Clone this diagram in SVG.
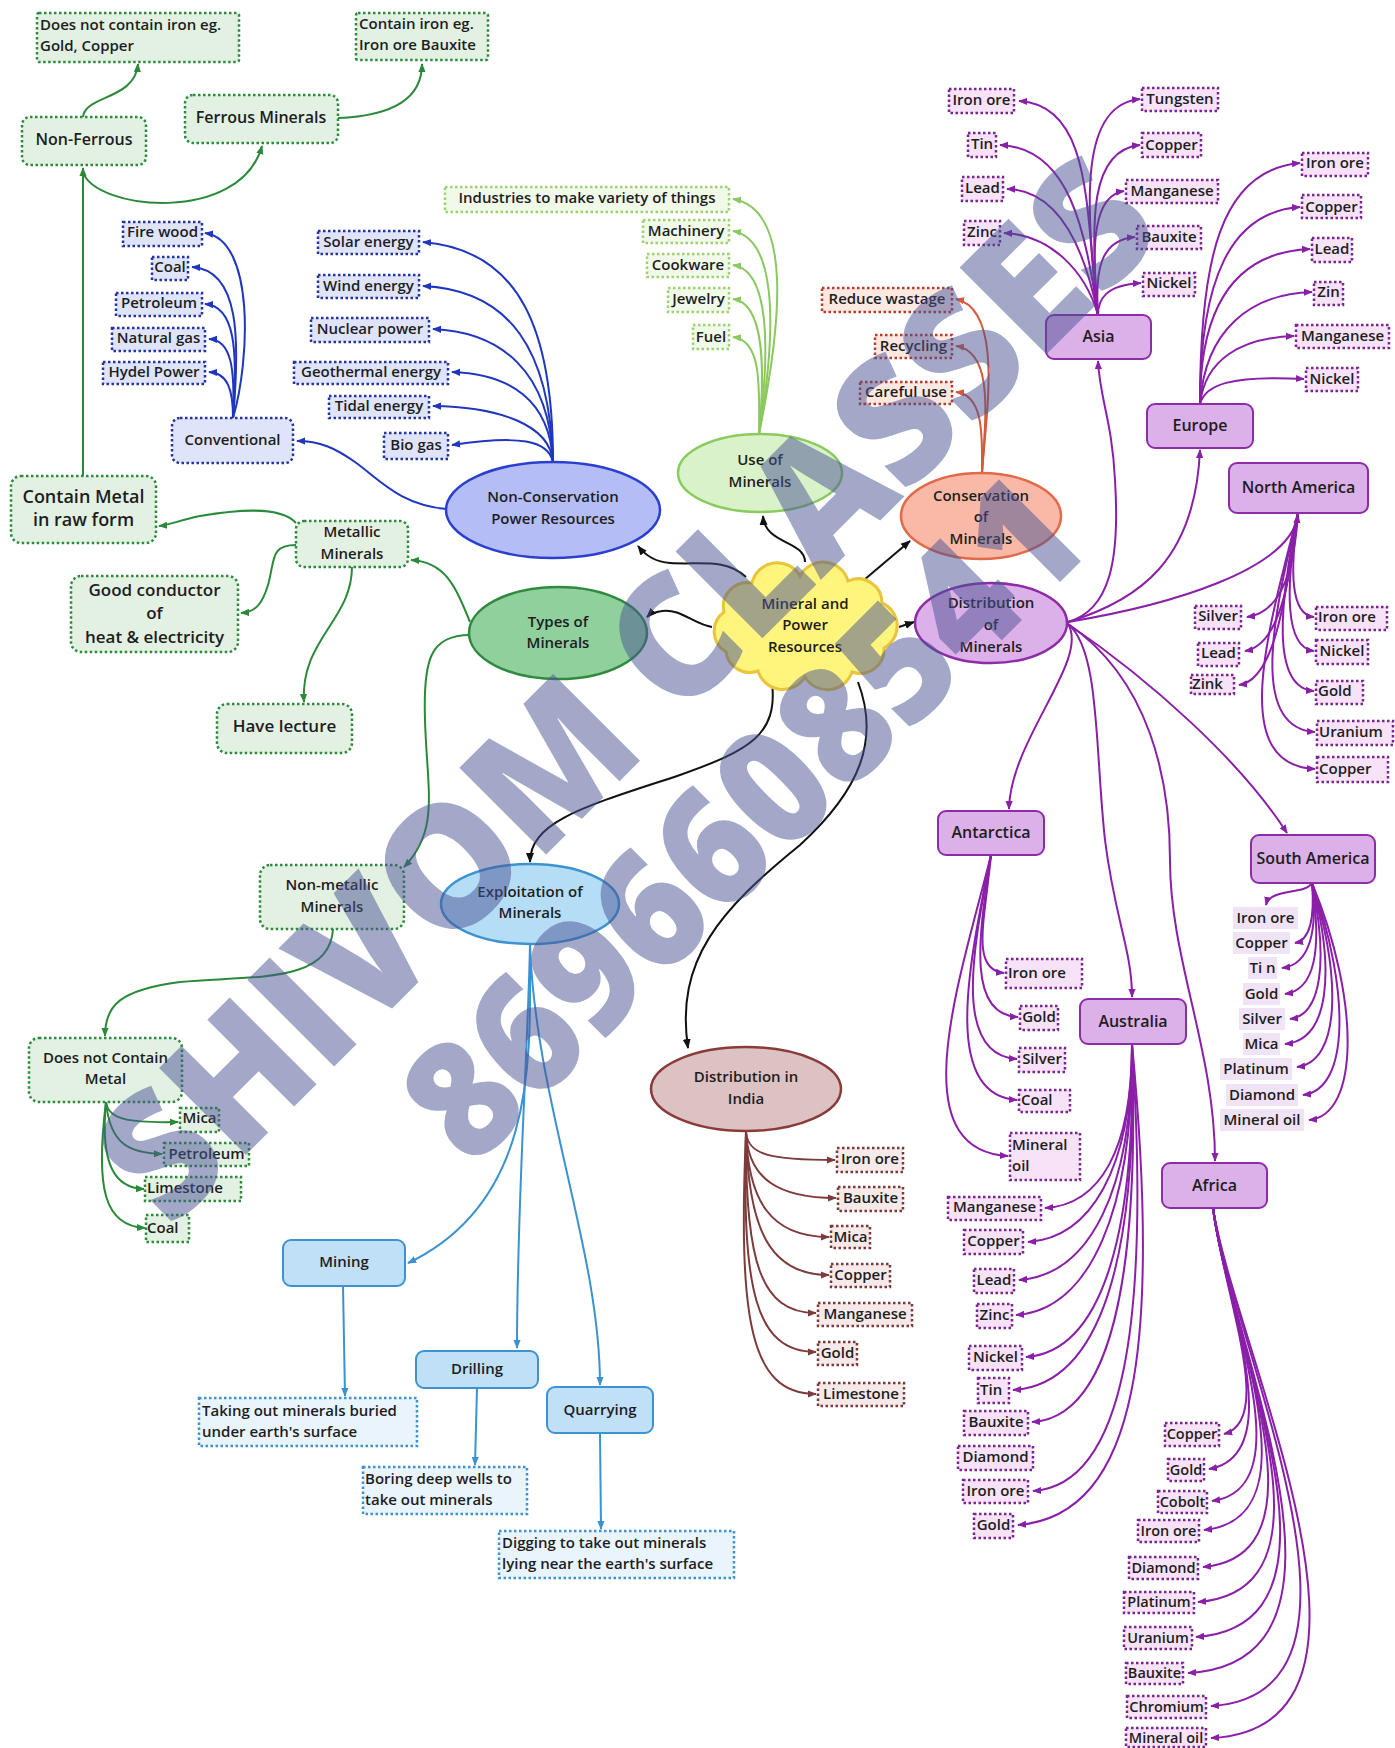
<svg xmlns="http://www.w3.org/2000/svg" width="1395" height="1748" viewBox="0 0 1395 1748">
<style>
.t{font-family:"Open Sans","Liberation Sans",Arial,sans-serif;font-weight:600;font-size:15px;fill:#1d1d1d;text-anchor:middle}
.s{text-anchor:start}
.f16{font-size:16px}.f17{font-size:17px}.f18{font-size:18px}.f14{font-size:14.5px}
.gb{fill:#e3f1e3;stroke:#2e8b3e;stroke-width:2.5;stroke-dasharray:2.5 2.5}
.bb{fill:#dfe4fa;stroke:#2435a0;stroke-width:2.5;stroke-dasharray:2.5 2.5}
.lg{fill:#f1f9e8;stroke:#9dd173;stroke-width:2.5;stroke-dasharray:2.5 2.5}
.rb{fill:#fde8e2;stroke:#b83c2c;stroke-width:2.5;stroke-dasharray:2.5 2.5}
.pb{fill:#f7e2f7;stroke:#7a2590;stroke-width:2.5;stroke-dasharray:2.5 2.5}
.mb{fill:#f6e9e9;stroke:#7a3a3a;stroke-width:2.5;stroke-dasharray:2.5 2.5}
.xb{fill:#eaf4fc;stroke:#3d93d0;stroke-width:2.5;stroke-dasharray:2.5 2.5}
.cont{fill:#dcb0e8;stroke:#8e2ca8;stroke-width:2}
.ex{fill:#c0e0f8;stroke:#3d93d0;stroke-width:2}
.sa{fill:#f1e3f6}
.cg{fill:none;stroke:#2a8a3a;stroke-width:2;marker-end:url(#aG)}
.cb{fill:none;stroke:#1f36c0;stroke-width:2;marker-end:url(#aB)}
.cl{fill:none;stroke:#8bc860;stroke-width:2;marker-end:url(#aL)}
.cr{fill:none;stroke:#d5593c;stroke-width:2;marker-end:url(#aR)}
.cp{fill:none;stroke:#8a1fa8;stroke-width:2;marker-end:url(#aP)}
.ck{fill:none;stroke:#111;stroke-width:2;marker-end:url(#aK)}
.cx{fill:none;stroke:#3b92d0;stroke-width:2;marker-end:url(#aX)}
.cm{fill:none;stroke:#7d3b3b;stroke-width:2;marker-end:url(#aM)}
.wm{font-family:"Open Sans","Liberation Sans",Arial,sans-serif;font-weight:800;fill:#4a5494;opacity:0.5;text-anchor:middle}
</style>
<defs>
<marker id="aG" viewBox="0 0 10 10" refX="9" refY="5" markerWidth="9" markerHeight="9" markerUnits="userSpaceOnUse" orient="auto"><path d="M0,1 L10,5 L0,9 z" fill="#2a8a3a"/></marker>
<marker id="aB" viewBox="0 0 10 10" refX="9" refY="5" markerWidth="9" markerHeight="9" markerUnits="userSpaceOnUse" orient="auto"><path d="M0,1 L10,5 L0,9 z" fill="#1f36c0"/></marker>
<marker id="aL" viewBox="0 0 10 10" refX="9" refY="5" markerWidth="9" markerHeight="9" markerUnits="userSpaceOnUse" orient="auto"><path d="M0,1 L10,5 L0,9 z" fill="#8bc860"/></marker>
<marker id="aR" viewBox="0 0 10 10" refX="9" refY="5" markerWidth="9" markerHeight="9" markerUnits="userSpaceOnUse" orient="auto"><path d="M0,1 L10,5 L0,9 z" fill="#d5593c"/></marker>
<marker id="aP" viewBox="0 0 10 10" refX="9" refY="5" markerWidth="9" markerHeight="9" markerUnits="userSpaceOnUse" orient="auto"><path d="M0,1 L10,5 L0,9 z" fill="#8a1fa8"/></marker>
<marker id="aK" viewBox="0 0 10 10" refX="9" refY="5" markerWidth="10" markerHeight="10" markerUnits="userSpaceOnUse" orient="auto"><path d="M0,1 L10,5 L0,9 z" fill="#111"/></marker>
<marker id="aX" viewBox="0 0 10 10" refX="9" refY="5" markerWidth="9" markerHeight="9" markerUnits="userSpaceOnUse" orient="auto"><path d="M0,1 L10,5 L0,9 z" fill="#3b92d0"/></marker>
<marker id="aM" viewBox="0 0 10 10" refX="9" refY="5" markerWidth="9" markerHeight="9" markerUnits="userSpaceOnUse" orient="auto"><path d="M0,1 L10,5 L0,9 z" fill="#7d3b3b"/></marker>
</defs>
<rect width="1395" height="1748" fill="#fff"/>

<g id="connectors">
<path class="cg" d="M83,117 C85,95 135,100 138,64"/>
<path class="cg" d="M338,118 C390,116 422,100 422,64"/>
<path class="cg" d="M83,476 L83,168"/>
<path class="cg" d="M83,172 C95,210 240,225 262,146"/>
<path class="cb" d="M233,418 C250,360 255,240 205,233"/>
<path class="cb" d="M233,418 C240,340 240,270 192,267"/>
<path class="cb" d="M233,418 C238,350 235,306 205,304"/>
<path class="cb" d="M233,418 C235,370 232,340 209,339"/>
<path class="cb" d="M233,418 C233,390 228,373 209,372"/>
<path class="cb" d="M447,509 C400,505 380,480 355,462 C335,448 320,441 297,441"/>
<path class="cb" d="M553,462 C553,330 520,250 423,242"/>
<path class="cb" d="M553,462 C550,350 510,290 423,286"/>
<path class="cb" d="M553,462 C550,370 500,332 433,329"/>
<path class="cb" d="M553,462 C550,400 510,374 452,372"/>
<path class="cb" d="M553,462 C550,425 500,407 433,406"/>
<path class="cb" d="M553,462 C548,440 520,435 452,445"/>
<path class="cl" d="M759,434 C780,330 795,210 733,199"/>
<path class="cl" d="M759,434 C775,340 780,240 733,231"/>
<path class="cl" d="M759,434 C770,350 770,270 733,265"/>
<path class="cl" d="M759,434 C765,370 765,303 733,299"/>
<path class="cl" d="M759,434 C760,380 760,340 733,337"/>
<path class="cr" d="M982,474 C985,420 1005,310 956,299"/>
<path class="cr" d="M982,474 C985,420 995,352 956,346"/>
<path class="cr" d="M982,474 C982,440 985,395 956,392"/>
<path class="ck" d="M746,577 C725,558 700,565 670,563 C655,562 645,555 638,546"/>
<path class="ck" d="M805,562 C805,540 765,545 763,516"/>
<path class="ck" d="M712,627 C695,625 680,608 662,611 C655,612 650,614 647,617"/>
<path class="ck" d="M864,580 L910,541"/>
<path class="ck" d="M899,627 L914,622"/>
<path class="ck" d="M772,682 C778,735 750,750 680,775 C590,805 530,820 530,862"/>
<path class="ck" d="M858,682 C880,740 860,790 800,845 C720,910 675,960 688,1048"/>
<path class="cg" d="M470,622 C455,585 445,562 411,560"/>
<path class="cg" d="M470,635 C430,635 423,660 425,720 C427,790 440,830 404,867"/>
<path class="cg" d="M296,523 C280,505 235,510 200,516 C180,520 170,525 159,526"/>
<path class="cg" d="M296,545 C270,545 275,560 268,585 C262,605 255,612 241,613"/>
<path class="cg" d="M352,567 C352,620 300,640 304,702"/>
<path class="cg" d="M333,929 C330,985 250,975 180,982 C120,990 105,1005 105,1036"/>
<path class="cg" d="M106,1102 C108,1120 130,1123 178,1122"/>
<path class="cg" d="M106,1102 C110,1145 130,1153 162,1154"/>
<path class="cg" d="M106,1102 C100,1165 115,1188 144,1189"/>
<path class="cg" d="M106,1102 C95,1190 105,1226 145,1228"/>
<path class="cx" d="M530,944 C530,1050 540,1200 408,1263"/>
<path class="cx" d="M530,944 C528,1050 517,1200 517,1348"/>
<path class="cx" d="M530,944 C535,1100 600,1250 600,1385"/>
<path class="cx" d="M343,1286 L345,1396"/>
<path class="cx" d="M477,1388 L475,1465"/>
<path class="cx" d="M600,1433 L601,1529"/>
<path class="cm" d="M746,1132 C748,1155 770,1160 835,1160"/>
<path class="cm" d="M746,1132 C748,1180 780,1198 836,1198"/>
<path class="cm" d="M746,1132 C748,1200 770,1237 829,1237"/>
<path class="cm" d="M746,1132 C748,1230 770,1275 829,1275"/>
<path class="cm" d="M746,1132 C745,1260 760,1313 816,1313"/>
<path class="cm" d="M746,1132 C742,1290 755,1352 816,1352"/>
<path class="cm" d="M746,1132 C738,1320 750,1394 816,1394"/>
<path class="cp" d="M1068,622 C1110,610 1120,560 1115,480 C1112,420 1100,400 1098,361"/>
<path class="cp" d="M1068,622 C1140,600 1195,560 1200,450"/>
<path class="cp" d="M1068,622 C1170,605 1290,570 1298,515"/>
<path class="cp" d="M1068,624 C1090,660 1010,740 1009,809"/>
<path class="cp" d="M1068,624 C1100,650 1095,750 1105,840 C1115,920 1132,950 1132,997"/>
<path class="cp" d="M1068,624 C1150,680 1170,780 1170,860 C1170,960 1215,1050 1215,1161"/>
<path class="cp" d="M1068,624 C1150,680 1240,760 1287,833"/>
<path class="cp" d="M1098,315 C1085,220 1095,105 1019,101"/>
<path class="cp" d="M1098,315 C1085,230 1070,148 1000,145"/>
<path class="cp" d="M1098,315 C1085,250 1060,190 1007,189"/>
<path class="cp" d="M1098,315 C1085,270 1050,235 1004,233"/>
<path class="cp" d="M1098,315 C1085,200 1080,105 1140,99"/>
<path class="cp" d="M1098,315 C1090,220 1090,150 1140,145"/>
<path class="cp" d="M1098,315 C1090,240 1095,195 1124,191"/>
<path class="cp" d="M1098,315 C1095,270 1100,240 1135,237"/>
<path class="cp" d="M1098,315 C1098,300 1105,285 1141,283"/>
<path class="cp" d="M1200,404 C1200,260 1220,170 1300,163"/>
<path class="cp" d="M1200,404 C1200,280 1230,212 1300,207"/>
<path class="cp" d="M1200,404 C1200,300 1240,252 1310,249"/>
<path class="cp" d="M1200,404 C1205,330 1250,294 1312,292"/>
<path class="cp" d="M1200,404 C1205,360 1240,338 1294,336"/>
<path class="cp" d="M1200,404 C1205,385 1230,375 1304,379"/>
<path class="cp" d="M1298,513 C1295,560 1285,612 1247,617"/>
<path class="cp" d="M1298,513 C1290,580 1280,645 1245,651"/>
<path class="cp" d="M1298,513 C1285,600 1275,680 1239,685"/>
<path class="cp" d="M1298,513 C1290,570 1290,615 1314,617"/>
<path class="cp" d="M1298,513 C1285,590 1285,648 1314,651"/>
<path class="cp" d="M1298,513 C1280,600 1270,688 1314,691"/>
<path class="cp" d="M1298,513 C1272,620 1250,728 1315,732"/>
<path class="cp" d="M1298,513 C1265,640 1230,765 1315,769"/>
<path class="cp" d="M1312,883 C1305,895 1270,888 1266,905"/>
<path class="cp" d="M1312,883 C1315,920 1310,940 1295,943"/>
<path class="cp" d="M1312,883 C1318,930 1310,965 1282,968"/>
<path class="cp" d="M1312,883 C1322,950 1315,990 1285,994"/>
<path class="cp" d="M1312,883 C1328,960 1322,1015 1290,1019"/>
<path class="cp" d="M1312,883 C1335,970 1330,1040 1285,1044"/>
<path class="cp" d="M1312,883 C1342,980 1340,1062 1297,1067"/>
<path class="cp" d="M1312,883 C1350,990 1350,1090 1303,1095"/>
<path class="cp" d="M1312,883 C1360,1000 1360,1115 1309,1120"/>
<path class="cp" d="M991,855 C985,920 970,970 1004,973"/>
<path class="cp" d="M991,855 C980,930 965,1015 1018,1017"/>
<path class="cp" d="M991,855 C975,940 950,1055 1017,1059"/>
<path class="cp" d="M991,855 C970,960 940,1095 1017,1100"/>
<path class="cp" d="M991,855 C960,980 900,1150 1008,1156"/>
<path class="cp" d="M1132,1044 C1132,1150 1100,1205 1045,1208"/>
<path class="cp" d="M1132,1044 C1132,1170 1090,1238 1028,1242"/>
<path class="cp" d="M1132,1044 C1133,1190 1090,1275 1019,1280"/>
<path class="cp" d="M1132,1044 C1134,1210 1090,1310 1016,1315"/>
<path class="cp" d="M1132,1044 C1136,1240 1100,1352 1026,1357"/>
<path class="cp" d="M1132,1044 C1138,1260 1100,1385 1013,1390"/>
<path class="cp" d="M1132,1044 C1140,1280 1110,1418 1032,1422"/>
<path class="cp" d="M1132,1044 C1150,1320 1125,1485 1033,1491"/>
<path class="cp" d="M1132,1044 C1160,1340 1140,1515 1018,1525"/>
<path class="cp" d="M1213,1208 C1225,1300 1275,1420 1224,1434"/>
<path class="cp" d="M1213,1208 C1225,1300 1290,1455 1209,1469"/>
<path class="cp" d="M1213,1208 C1225,1310 1305,1488 1212,1501"/>
<path class="cp" d="M1213,1208 C1228,1320 1320,1518 1204,1530"/>
<path class="cp" d="M1213,1208 C1228,1330 1335,1555 1203,1567"/>
<path class="cp" d="M1213,1208 C1230,1340 1350,1590 1198,1602"/>
<path class="cp" d="M1213,1208 C1230,1345 1365,1625 1196,1637"/>
<path class="cp" d="M1213,1208 C1232,1350 1380,1662 1188,1673"/>
<path class="cp" d="M1213,1208 C1234,1350 1400,1695 1211,1706"/>
<path class="cp" d="M1213,1208 C1235,1350 1420,1728 1211,1738"/>
</g>

<g id="n-noniron"><rect class="gb" x="37" y="13" width="202" height="49" rx="2"/><text class="t s" x="40" y="30">Does not contain iron eg.</text><text class="t s" x="40" y="51">Gold, Copper</text></g>
<g id="n-iron"><rect class="gb" x="356" y="13" width="132" height="47" rx="2"/><text class="t s" x="359" y="29">Contain iron eg.</text><text class="t s" x="359" y="50">Iron ore Bauxite</text></g>
<g id="n-ferrous"><rect class="gb" x="185" y="95" width="153" height="48" rx="8"/><text class="t f16" x="261" y="123">Ferrous Minerals</text></g>
<g id="n-nonferrous"><rect class="gb" x="22" y="117" width="124" height="48" rx="8"/><text class="t f16" x="84" y="145">Non-Ferrous</text></g>

<g id="n-firewood"><rect class="bb" x="123" y="222" width="79" height="24"/><text class="t" x="162.5" y="237">Fire wood</text></g>
<g id="n-coal1"><rect class="bb" x="152" y="257" width="36" height="23"/><text class="t" x="170" y="272">Coal</text></g>
<g id="n-petro1"><rect class="bb" x="116" y="293" width="86" height="23"/><text class="t" x="159" y="308">Petroleum</text></g>
<g id="n-natgas"><rect class="bb" x="112" y="328" width="93" height="23"/><text class="t" x="158.5" y="343">Natural gas</text></g>
<g id="n-hydel"><rect class="bb" x="103" y="362" width="102" height="22"/><text class="t" x="154" y="377">Hydel Power</text></g>
<g id="n-conventional"><rect class="bb" x="172" y="418" width="121" height="45" rx="8"/><text class="t" x="232.5" y="445">Conventional</text></g>

<g id="n-solar"><rect class="bb" x="318" y="231" width="101" height="23"/><text class="t" x="368.5" y="247">Solar energy</text></g>
<g id="n-wind"><rect class="bb" x="318" y="275" width="101" height="23"/><text class="t" x="368.5" y="291">Wind energy</text></g>
<g id="n-nuclear"><rect class="bb" x="311" y="318" width="118" height="24"/><text class="t" x="370" y="334">Nuclear power</text></g>
<g id="n-geo"><rect class="bb" x="294" y="362" width="154" height="22"/><text class="t" x="371" y="377">Geothermal energy</text></g>
<g id="n-tidal"><rect class="bb" x="329" y="396" width="100" height="22"/><text class="t" x="379" y="411">Tidal energy</text></g>
<g id="n-biogas"><rect class="bb" x="384" y="433" width="64" height="26"/><text class="t" x="416" y="450">Bio gas</text></g>

<g id="n-noncons"><ellipse cx="553" cy="510" rx="107" ry="48" fill="#b4bdf6" stroke="#2a3fd0" stroke-width="2.5"/><text class="t" x="553" y="502">Non-Conservation</text><text class="t" x="553" y="524">Power Resources</text></g>
<g id="n-use"><ellipse cx="760" cy="473" rx="82" ry="39" fill="#daf2ca" stroke="#8acb5e" stroke-width="2.5"/><text class="t" x="760" y="465">Use of</text><text class="t" x="760" y="487">Minerals</text></g>
<g id="n-types"><ellipse cx="558" cy="633" rx="89" ry="46" fill="#90d09c" stroke="#2e8b3e" stroke-width="2.5"/><text class="t" x="558" y="627">Types of</text><text class="t" x="558" y="648">Minerals</text></g>
<g id="n-conservation"><ellipse cx="981" cy="516" rx="80" ry="43" fill="#f9b9a6" stroke="#e06a4a" stroke-width="2.5"/><text class="t" x="981" y="501">Conservation</text><text class="t" x="981" y="522">of</text><text class="t" x="981" y="544">Minerals</text></g>
<g id="n-distribution"><ellipse cx="991" cy="623" rx="76" ry="40" fill="#dcb0e8" stroke="#8e2ca8" stroke-width="2.5"/><text class="t" x="991" y="608">Distribution</text><text class="t" x="991" y="630">of</text><text class="t" x="991" y="652">Minerals</text></g>
<g id="n-exploit"><ellipse cx="530" cy="904" rx="89" ry="40" fill="#b6ddf6" stroke="#3d93d0" stroke-width="2.5"/><text class="t" x="530" y="897">Exploitation of</text><text class="t" x="530" y="918">Minerals</text></g>
<g id="n-india"><ellipse cx="746" cy="1089" rx="95" ry="42" fill="#dcc2c2" stroke="#8b3a3a" stroke-width="2.5"/><text class="t" x="746" y="1082">Distribution in</text><text class="t" x="746" y="1104">India</text></g>
<g id="n-center"><path d="M724,612 A24,24 0 0 1 752,583 A26,26 0 0 1 800,576 A26,26 0 0 1 848,581 A24,24 0 0 1 882,603 A25,25 0 0 1 884,648 A24,24 0 0 1 852,672 A26,26 0 0 1 805,677 A26,26 0 0 1 758,671 A24,24 0 0 1 726,652 A24,24 0 0 1 724,612 Z" fill="#fff47c" stroke="#e8c53a" stroke-width="3"/><text class="t" x="805" y="609">Mineral and</text><text class="t" x="805" y="630">Power</text><text class="t" x="805" y="652">Resources</text></g>

<g id="n-industries"><rect class="lg" x="445" y="187" width="284" height="25"/><text class="t" x="587" y="203">Industries to make variety of things</text></g>
<g id="n-machinery"><rect class="lg" x="643" y="220" width="86" height="23"/><text class="t" x="686" y="236">Machinery</text></g>
<g id="n-cookware"><rect class="lg" x="647" y="254" width="82" height="23"/><text class="t" x="688" y="270">Cookware</text></g>
<g id="n-jewelry"><rect class="lg" x="668" y="288" width="61" height="24"/><text class="t" x="698.5" y="304">Jewelry</text></g>
<g id="n-fuel"><rect class="lg" x="693" y="325" width="36" height="24"/><text class="t" x="711" y="342">Fuel</text></g>

<g id="n-reduce"><rect class="rb" x="822" y="288" width="130" height="24"/><text class="t" x="887" y="304">Reduce wastage</text></g>
<g id="n-recycling"><rect class="rb" x="875" y="335" width="77" height="23"/><text class="t" x="913.5" y="351">Recycling</text></g>
<g id="n-careful"><rect class="rb" x="860" y="382" width="92" height="22"/><text class="t" x="906" y="397">Careful use</text></g>

<g id="n-asia"><rect class="cont" x="1046" y="315" width="105" height="44" rx="8"/><text class="t f16" x="1098.5" y="342">Asia</text></g>
<g id="n-as1"><rect class="pb" x="949" y="89" width="65" height="24"/><text class="t" x="981.5" y="105">Iron ore</text></g>
<g id="n-as2"><rect class="pb" x="968" y="133" width="28" height="24"/><text class="t" x="982" y="149">Tin</text></g>
<g id="n-as3"><rect class="pb" x="962" y="177" width="41" height="24"/><text class="t" x="982.5" y="193">Lead</text></g>
<g id="n-as4"><rect class="pb" x="964" y="221" width="36" height="24"/><text class="t" x="982" y="237">Zinc</text></g>
<g id="n-as5"><rect class="pb" x="1142" y="88" width="76" height="23"/><text class="t" x="1180" y="104">Tungsten</text></g>
<g id="n-as6"><rect class="pb" x="1142" y="133" width="59" height="24"/><text class="t" x="1171.5" y="150">Copper</text></g>
<g id="n-as7"><rect class="pb" x="1126" y="180" width="92" height="23"/><text class="t" x="1172" y="196">Manganese</text></g>
<g id="n-as8"><rect class="pb" x="1137" y="226" width="64" height="23"/><text class="t" x="1169" y="242">Bauxite</text></g>
<g id="n-as9"><rect class="pb" x="1143" y="273" width="52" height="23"/><text class="t" x="1169" y="288">Nickel</text></g>

<g id="n-europe"><rect class="cont" x="1147" y="404" width="106" height="44" rx="8"/><text class="t f16" x="1200" y="431">Europe</text></g>
<g id="n-eu1"><rect class="pb" x="1302" y="153" width="66" height="23"/><text class="t" x="1335" y="168">Iron ore</text></g>
<g id="n-eu2"><rect class="pb" x="1302" y="195" width="59" height="23"/><text class="t" x="1331.5" y="212">Copper</text></g>
<g id="n-eu3"><rect class="pb" x="1312" y="238" width="40" height="24"/><text class="t" x="1332" y="254">Lead</text></g>
<g id="n-eu4"><rect class="pb" x="1314" y="282" width="29" height="23"/><text class="t" x="1328.5" y="297">Zin</text></g>
<g id="n-eu5"><rect class="pb" x="1296" y="325" width="93" height="23"/><text class="t" x="1342.5" y="341">Manganese</text></g>
<g id="n-eu6"><rect class="pb" x="1306" y="368" width="52" height="23"/><text class="t" x="1332" y="384">Nickel</text></g>

<g id="n-na"><rect class="cont" x="1229" y="463" width="139" height="50" rx="8"/><text class="t f16" x="1298.5" y="493">North America</text></g>
<g id="n-na1"><rect class="pb" x="1195" y="606" width="46" height="23"/><text class="t" x="1218" y="621">Silver</text></g>
<g id="n-na2"><rect class="pb" x="1198" y="643" width="41" height="23"/><text class="t" x="1218.5" y="658">Lead</text></g>
<g id="n-na3"><rect class="pb" x="1191" y="675" width="43" height="19"/><text class="t s" x="1192" y="689">Zink</text></g>
<g id="n-na4"><rect class="pb" x="1316" y="607" width="71" height="23"/><text class="t s" x="1318" y="622">Iron ore</text></g>
<g id="n-na5"><rect class="pb" x="1316" y="640" width="52" height="24"/><text class="t" x="1342" y="656">Nickel</text></g>
<g id="n-na6"><rect class="pb" x="1316" y="681" width="47" height="23"/><text class="t s" x="1318" y="696">Gold</text></g>
<g id="n-na7"><rect class="pb" x="1317" y="721" width="76" height="24"/><text class="t s" x="1319" y="737">Uranium</text></g>
<g id="n-na8"><rect class="pb" x="1317" y="757" width="71" height="25"/><text class="t s" x="1319" y="774">Copper</text></g>

<g id="n-ant"><rect class="cont" x="938" y="811" width="106" height="44" rx="8"/><text class="t f16" x="991" y="838">Antarctica</text></g>
<g id="n-an1"><rect class="pb" x="1006" y="959" width="76" height="29"/><text class="t s" x="1008" y="978">Iron ore</text></g>
<g id="n-an2"><rect class="pb" x="1020" y="1006" width="38" height="24"/><text class="t" x="1039" y="1022">Gold</text></g>
<g id="n-an3"><rect class="pb" x="1019" y="1048" width="46" height="24"/><text class="t" x="1042" y="1064">Silver</text></g>
<g id="n-an4"><rect class="pb" x="1019" y="1090" width="51" height="22"/><text class="t s" x="1021" y="1105">Coal</text></g>
<g id="n-an5"><rect class="pb" x="1010" y="1133" width="70" height="47"/><text class="t s" x="1012" y="1150">Mineral</text><text class="t s" x="1012" y="1171">oil</text></g>

<g id="n-aus"><rect class="cont" x="1080" y="999" width="106" height="45" rx="8"/><text class="t f16" x="1133" y="1027">Australia</text></g>
<g id="n-au1"><rect class="pb" x="948" y="1197" width="93" height="23"/><text class="t" x="994.5" y="1212">Manganese</text></g>
<g id="n-au2"><rect class="pb" x="964" y="1230" width="59" height="24"/><text class="t" x="993.5" y="1246">Copper</text></g>
<g id="n-au3"><rect class="pb" x="974" y="1269" width="40" height="24"/><text class="t" x="994" y="1285">Lead</text></g>
<g id="n-au4"><rect class="pb" x="977" y="1304" width="35" height="24"/><text class="t" x="994.5" y="1320">Zinc</text></g>
<g id="n-au5"><rect class="pb" x="969" y="1346" width="53" height="24"/><text class="t" x="995.5" y="1362">Nickel</text></g>
<g id="n-au6"><rect class="pb" x="978" y="1378" width="31" height="25"/><text class="t s" x="980" y="1395">Tin</text></g>
<g id="n-au7"><rect class="pb" x="964" y="1411" width="64" height="24"/><text class="t" x="996" y="1427">Bauxite</text></g>
<g id="n-au8"><rect class="pb" x="958" y="1446" width="75" height="24"/><text class="t" x="995.5" y="1462">Diamond</text></g>
<g id="n-au9"><rect class="pb" x="963" y="1480" width="65" height="23"/><text class="t" x="995.5" y="1496">Iron ore</text></g>
<g id="n-au10"><rect class="pb" x="974" y="1514" width="39" height="24"/><text class="t" x="993.5" y="1530">Gold</text></g>

<g id="n-sam"><rect class="cont" x="1251" y="835" width="124" height="48" rx="8"/><text class="t f16" x="1313" y="864">South America</text></g>
<g id="n-sa1"><rect class="sa" x="1233" y="907" width="65" height="22"/><text class="t" x="1265.5" y="923">Iron ore</text></g>
<g id="n-sa2"><rect class="sa" x="1233" y="932" width="57" height="22"/><text class="t" x="1261.5" y="948">Copper</text></g>
<g id="n-sa3"><rect class="sa" x="1248" y="957" width="29" height="22"/><text class="t" x="1262.5" y="973">Ti n</text></g>
<g id="n-sa4"><rect class="sa" x="1243" y="983" width="37" height="22"/><text class="t" x="1261.5" y="999">Gold</text></g>
<g id="n-sa5"><rect class="sa" x="1239" y="1008" width="46" height="22"/><text class="t" x="1262" y="1024">Silver</text></g>
<g id="n-sa6"><rect class="sa" x="1243" y="1033" width="37" height="22"/><text class="t" x="1261.5" y="1049">Mica</text></g>
<g id="n-sa7"><rect class="sa" x="1220" y="1058" width="72" height="22"/><text class="t" x="1256" y="1074">Platinum</text></g>
<g id="n-sa8"><rect class="sa" x="1226" y="1084" width="72" height="22"/><text class="t" x="1262" y="1100">Diamond</text></g>
<g id="n-sa9"><rect class="sa" x="1220" y="1109" width="84" height="22"/><text class="t" x="1262" y="1125">Mineral oil</text></g>

<g id="n-africa"><rect class="cont" x="1162" y="1163" width="105" height="45" rx="8"/><text class="t f16" x="1214.5" y="1191">Africa</text></g>
<g id="n-af1"><rect class="pb" x="1165" y="1423" width="54" height="23"/><text class="t f14" x="1192" y="1439">Copper</text></g>
<g id="n-af2"><rect class="pb" x="1168" y="1459" width="36" height="22"/><text class="t f14" x="1186" y="1475">Gold</text></g>
<g id="n-af3"><rect class="pb" x="1158" y="1491" width="49" height="22"/><text class="t f14" x="1182.5" y="1507">Cobolt</text></g>
<g id="n-af4"><rect class="pb" x="1138" y="1520" width="61" height="22"/><text class="t f14" x="1168.5" y="1536">Iron ore</text></g>
<g id="n-af5"><rect class="pb" x="1129" y="1557" width="69" height="22"/><text class="t f14" x="1163.5" y="1573">Diamond</text></g>
<g id="n-af6"><rect class="pb" x="1124" y="1592" width="70" height="21"/><text class="t f14" x="1159" y="1607">Platinum</text></g>
<g id="n-af7"><rect class="pb" x="1124" y="1627" width="68" height="22"/><text class="t f14" x="1158" y="1643">Uranium</text></g>
<g id="n-af8"><rect class="pb" x="1126" y="1663" width="57" height="21"/><text class="t f14" x="1154.5" y="1678">Bauxite</text></g>
<g id="n-af9"><rect class="pb" x="1127" y="1696" width="79" height="22"/><text class="t f14" x="1166.5" y="1712">Chromium</text></g>
<g id="n-af10"><rect class="pb" x="1126" y="1728" width="80" height="19"/><text class="t f14" x="1166" y="1743">Mineral oil</text></g>

<g id="n-metallic"><rect class="gb" x="296" y="521" width="112" height="46" rx="8"/><text class="t" x="352" y="537">Metallic</text><text class="t" x="352" y="559">Minerals</text></g>
<g id="n-containmetal"><rect class="gb" x="11" y="476" width="145" height="67" rx="10"/><text class="t f18" x="83.5" y="503">Contain Metal</text><text class="t f18" x="83.5" y="526">in raw form</text></g>
<g id="n-conductor"><rect class="gb" x="71" y="576" width="167" height="76" rx="10"/><text class="t f17" x="154.5" y="596">Good conductor</text><text class="t f17" x="154.5" y="619">of</text><text class="t f17" x="154.5" y="643">heat &amp; electricity</text></g>
<g id="n-lecture"><rect class="gb" x="217" y="704" width="135" height="49" rx="10"/><text class="t f17" x="284.5" y="732">Have lecture</text></g>
<g id="n-nonmetallic"><rect class="gb" x="260" y="865" width="144" height="64" rx="10"/><text class="t" x="332" y="890">Non-metallic</text><text class="t" x="332" y="912">Minerals</text></g>
<g id="n-nometal"><rect class="gb" x="29" y="1038" width="153" height="64" rx="10"/><text class="t" x="105.5" y="1063">Does not Contain</text><text class="t" x="105.5" y="1084">Metal</text></g>
<g id="n-mica1"><rect class="gb" x="180" y="1108" width="39" height="24"/><text class="t" x="199.5" y="1123">Mica</text></g>
<g id="n-petro2"><rect class="gb" x="164" y="1143" width="85" height="23"/><text class="t" x="206.5" y="1159">Petroleum</text></g>
<g id="n-lime1"><rect class="gb" x="145" y="1177" width="96" height="24"/><text class="t s" x="147" y="1193">Limestone</text></g>
<g id="n-coal2"><rect class="gb" x="146" y="1215" width="43" height="27"/><text class="t s" x="147" y="1233">Coal</text></g>

<g id="n-mining"><rect class="ex" x="283" y="1240" width="122" height="46" rx="8"/><text class="t" x="344" y="1267">Mining</text></g>
<g id="n-drilling"><rect class="ex" x="416" y="1351" width="122" height="37" rx="8"/><text class="t" x="477" y="1374">Drilling</text></g>
<g id="n-quarrying"><rect class="ex" x="547" y="1387" width="106" height="46" rx="8"/><text class="t" x="600" y="1415">Quarrying</text></g>
<g id="n-taking"><rect class="xb" x="199" y="1398" width="218" height="48"/><text class="t s" x="202" y="1416">Taking out minerals buried</text><text class="t s" x="202" y="1437">under earth's surface</text></g>
<g id="n-boring"><rect class="xb" x="363" y="1467" width="164" height="47"/><text class="t s" x="365" y="1484">Boring deep wells to</text><text class="t s" x="365" y="1505">take out minerals</text></g>
<g id="n-digging"><rect class="xb" x="499" y="1531" width="235" height="47"/><text class="t s" x="502" y="1548">Digging to take out minerals</text><text class="t s" x="502" y="1569">lying near the earth's surface</text></g>

<g id="n-in1"><rect class="mb" x="837" y="1148" width="66" height="24"/><text class="t" x="870" y="1164">Iron ore</text></g>
<g id="n-in2"><rect class="mb" x="838" y="1187" width="65" height="24"/><text class="t" x="870.5" y="1203">Bauxite</text></g>
<g id="n-in3"><rect class="mb" x="831" y="1226" width="39" height="22"/><text class="t" x="850.5" y="1242">Mica</text></g>
<g id="n-in4"><rect class="mb" x="831" y="1264" width="59" height="23"/><text class="t" x="860.5" y="1280">Copper</text></g>
<g id="n-in5"><rect class="mb" x="818" y="1303" width="94" height="23"/><text class="t" x="865" y="1319">Manganese</text></g>
<g id="n-in6"><rect class="mb" x="818" y="1342" width="39" height="23"/><text class="t" x="837.5" y="1358">Gold</text></g>
<g id="n-in7"><rect class="mb" x="818" y="1383" width="86" height="23"/><text class="t" x="861" y="1399">Limestone</text></g>

<g id="watermark">
<text class="wm" transform="translate(625,688) rotate(-45)" x="0" y="62" font-size="172" textLength="1410" lengthAdjust="spacingAndGlyphs">SHIVOM CLASSES</text>
<text class="wm" transform="translate(742,818) rotate(-45)" x="0" y="58" font-size="162" textLength="880" lengthAdjust="spacingAndGlyphs">8696608541</text>
</g>
</svg>
